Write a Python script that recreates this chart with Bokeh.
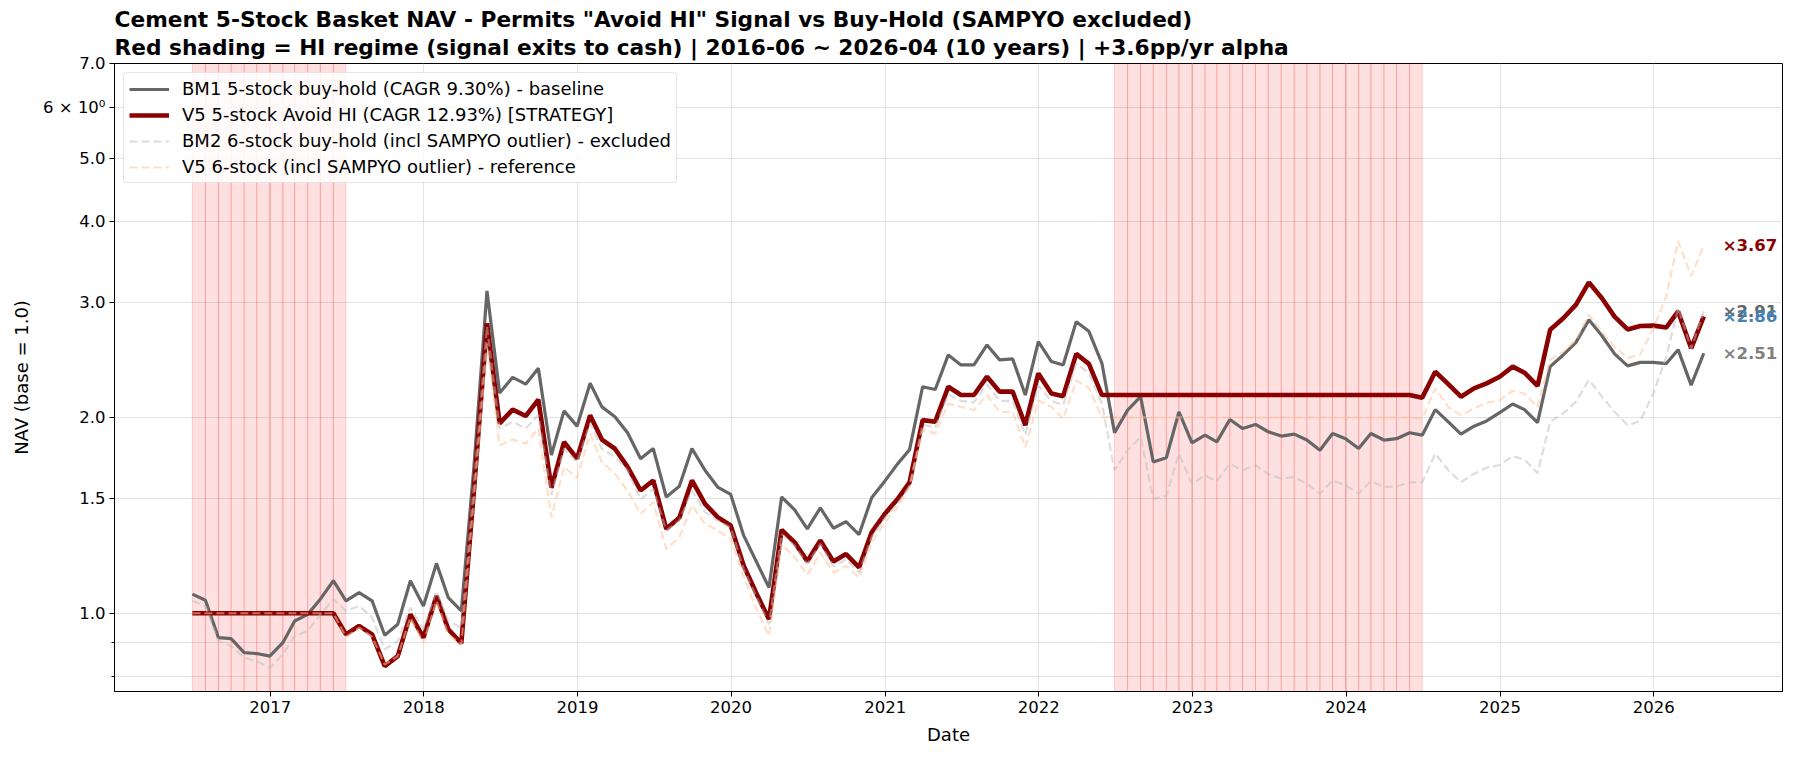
import calendar
from datetime import datetime

from bokeh.plotting import figure
from bokeh.models import (Range1d, FixedTicker, CustomJSTickFormatter, Legend,
                          LegendItem, Title, ColumnDataSource)
from bokeh.core.properties import value
from bokeh.embed import file_html
from bokeh.resources import INLINE

FONT = "DejaVu Sans"

# ---------------- data ----------------
first_year, first_month, n_months = 2016, 6, 119   # 2016-06 ... 2026-04 month ends

bm1_5stock = [
    1.070, 1.047, 0.917, 0.914, 0.870, 0.867, 0.859,
    0.901, 0.973, 0.996, 1.051, 1.122, 1.045, 1.076, 1.045, 0.925, 0.962, 1.122, 1.026,
    1.193, 1.057, 1.008, 1.680, 3.130, 2.180, 2.305, 2.250, 2.380, 1.750, 2.047, 1.939,
    2.257, 2.076, 2.005, 1.894, 1.728, 1.791, 1.509, 1.567, 1.791, 1.659, 1.563, 1.523,
    1.316, 1.204, 1.095, 1.509, 1.442, 1.348, 1.452, 1.351, 1.383, 1.321, 1.505, 1.596,
    1.698, 1.784, 2.229, 2.208, 2.495, 2.408, 2.408, 2.585, 2.452, 2.460, 2.165, 2.616,
    2.437, 2.408, 2.807, 2.713, 2.422, 1.894, 2.052, 2.152, 1.708, 1.734, 2.039, 1.827,
    1.878, 1.834, 1.985, 1.923, 1.951, 1.901, 1.872, 1.885, 1.846, 1.780, 1.889, 1.855,
    1.791, 1.889, 1.846, 1.855, 1.894, 1.878, 2.056, 1.969, 1.885, 1.939, 1.975, 2.034,
    2.097, 2.056, 1.963, 2.394, 2.495, 2.606, 2.825, 2.670, 2.504, 2.400, 2.430, 2.430,
    2.420, 2.542, 2.242, 2.510,
]

v5_5stock = [
    1.000, 1.000, 1.000, 1.000, 1.000, 1.000, 1.000,
    1.000, 1.000, 1.000, 1.000, 1.000, 0.928, 0.956, 0.928, 0.829, 0.859, 0.996, 0.917,
    1.063, 0.945, 0.899, 1.544, 2.790, 1.958, 2.056, 2.010, 2.130, 1.559, 1.833, 1.728,
    2.015, 1.849, 1.790, 1.679, 1.544, 1.600, 1.348, 1.402, 1.600, 1.473, 1.405, 1.364,
    1.183, 1.076, 0.979, 1.343, 1.285, 1.202, 1.294, 1.201, 1.233, 1.176, 1.332, 1.421,
    1.499, 1.590, 1.981, 1.970, 2.229, 2.165, 2.165, 2.310, 2.191, 2.191, 1.946, 2.337,
    2.177, 2.156, 2.504, 2.417, 2.165, 2.165, 2.165, 2.165, 2.165, 2.165, 2.165, 2.165,
    2.165, 2.165, 2.165, 2.165, 2.165, 2.165, 2.165, 2.165, 2.165, 2.165, 2.165, 2.165,
    2.165, 2.165, 2.165, 2.165, 2.165, 2.145, 2.351, 2.250, 2.152, 2.217, 2.256, 2.310,
    2.394, 2.343, 2.236, 2.727, 2.841, 2.979, 3.226, 3.050, 2.857, 2.731, 2.764, 2.768,
    2.750, 2.910, 2.554, 2.860,
]

bm2_6stock = [
    1.045, 1.026, 0.906, 0.890, 0.854, 0.844, 0.824,
    0.864, 0.923, 0.939, 0.996, 1.051, 1.008, 1.026, 0.985, 0.880, 0.906, 1.020, 0.945,
    1.083, 0.973, 0.950, 1.580, 2.760, 1.923, 1.969, 1.923, 2.017, 1.521, 1.790, 1.708,
    1.958, 1.790, 1.738, 1.659, 1.495, 1.554, 1.340, 1.388, 1.544, 1.430, 1.388, 1.355,
    1.169, 1.064, 0.962, 1.324, 1.269, 1.190, 1.278, 1.180, 1.210, 1.155, 1.310, 1.400,
    1.475, 1.570, 1.950, 1.930, 2.170, 2.120, 2.110, 2.250, 2.120, 2.120, 1.880, 2.240,
    2.120, 2.090, 2.420, 2.340, 2.100, 1.659, 1.780, 1.866, 1.499, 1.517, 1.759, 1.581,
    1.629, 1.596, 1.698, 1.659, 1.689, 1.638, 1.610, 1.620, 1.581, 1.526, 1.600, 1.573,
    1.526, 1.596, 1.563, 1.567, 1.589, 1.590, 1.759, 1.659, 1.590, 1.639, 1.674, 1.689,
    1.743, 1.723, 1.642, 1.969, 2.028, 2.114, 2.284, 2.152, 2.040, 1.946, 1.975, 2.177,
    2.480, 2.945, 2.550, 2.910,
]

v5_6stock = [
    1.000, 1.000, 1.000, 1.000, 1.000, 1.000, 1.000,
    1.000, 1.000, 1.000, 1.000, 1.000, 0.920, 0.950, 0.920, 0.834, 0.859, 0.985, 0.900,
    1.045, 0.928, 0.895, 1.500, 2.600, 1.812, 1.849, 1.823, 1.923, 1.405, 1.679, 1.615,
    1.888, 1.708, 1.638, 1.544, 1.422, 1.482, 1.255, 1.308, 1.464, 1.372, 1.340, 1.301,
    1.135, 1.020, 0.923, 1.278, 1.219, 1.145, 1.240, 1.155, 1.183, 1.135, 1.285, 1.380,
    1.456, 1.563, 1.913, 1.890, 2.100, 2.076, 2.052, 2.165, 2.039, 2.039, 1.800, 2.126,
    2.076, 1.990, 2.280, 2.220, 2.000, 2.000, 2.000, 2.000, 2.000, 2.000, 2.000, 2.000,
    2.000, 2.000, 2.000, 2.000, 2.000, 2.000, 2.000, 2.000, 2.000, 2.000, 2.000, 2.000,
    2.000, 2.000, 2.000, 2.000, 2.000, 1.990, 2.217, 2.075, 2.016, 2.063, 2.106, 2.126,
    2.198, 2.177, 2.075, 2.452, 2.524, 2.631, 2.874, 2.710, 2.571, 2.467, 2.500, 2.740,
    3.070, 3.730, 3.300, 3.670,
]

hi_periods = [("2016-06-30", "2017-06-30"), ("2022-06-30", "2024-06-30")]

end_label_values = [3.67, 2.91, 2.86, 2.51]
end_label_colors = ["#8B0000", "#666666", "#4682B4", "#808080"]

x_tick_years = [2017, 2018, 2019, 2020, 2021, 2022, 2023, 2024, 2025, 2026]
y_major_ticks = [1.0, 1.5, 2.0, 3.0, 4.0, 5.0, 6.0, 7.0]
y_minor_ticks = [0.8, 0.9]

legend_labels = [
    "BM1 5-stock buy-hold (CAGR 9.30%) - baseline",
    "V5 5-stock Avoid HI (CAGR 12.93%) [STRATEGY]",
    "BM2 6-stock buy-hold (incl SAMPYO outlier) - excluded",
    "V5 6-stock (incl SAMPYO outlier) - reference",
]
title_line1 = 'Cement 5-Stock Basket NAV - Permits "Avoid HI" Signal vs Buy-Hold (SAMPYO excluded)'
title_line2 = ("Red shading = HI regime (signal exits to cash) | 2016-06 ~ 2026-04 "
               "(10 years) | +3.6pp/yr alpha")

# month-end dates
dates = []
yy, mm = first_year, first_month
for _ in range(n_months):
    dates.append(datetime(yy, mm, calendar.monthrange(yy, mm)[1]))
    mm += 1
    if mm > 12:
        mm, yy = 1, yy + 1

# monthly HI spans
span_left, span_right = [], []
for a, b in hi_periods:
    da, db = datetime.fromisoformat(a), datetime.fromisoformat(b)
    for i in range(len(dates) - 1):
        if da <= dates[i] < db:
            span_left.append(dates[i])
            span_right.append(dates[i + 1])

# ---------------- figure ----------------
p = figure(width=1795, height=760, x_axis_type="datetime", y_axis_type="log",
           x_range=Range1d(datetime(2015, 12, 28), datetime(2026, 11, 3)),
           y_range=Range1d(0.758, 7.0),
           output_backend="svg", toolbar_location=None,
           min_border_left=114, min_border_right=13, min_border_top=63,
           min_border_bottom=69)
p.background_fill_color = "white"
p.border_fill_color = "white"
p.outline_line_color = "black"
p.outline_line_width = 1
p.outline_line_alpha = 1

# titles (p.title is the outer line, the added Title sits next to the frame)
p.title.text = title_line1
p.title.text_font = FONT
p.title.text_font_size = "21.7px"
p.title.text_font_style = "bold"
p.title.text_color = "black"
p.title.align = "left"
p.title.standoff = -5
p.add_layout(Title(text=title_line2, text_font=FONT, text_font_size="21.7px",
                   text_font_style="bold", text_color="black", align="left",
                   standoff=7), "above")

# shading
p.quad(left=span_left, right=span_right, bottom=0.5, top=10.0,
       fill_color="red", fill_alpha=0.12, line_color="red", line_alpha=0.16,
       line_width=1)

src = ColumnDataSource(dict(x=dates, bm1=bm1_5stock, v5=v5_5stock,
                            bm2=bm2_6stock, v56=v5_6stock))
r_bm1 = p.line("x", "bm1", source=src, line_color="#666666", line_width=3.2)
r_v5 = p.line("x", "v5", source=src, line_color="#8B0000", line_width=4.6)
r_bm2 = p.line("x", "bm2", source=src, line_color="#bbbbbb", line_alpha=0.5,
               line_width=2.2, line_dash="8 4")
r_v56 = p.line("x", "v56", source=src, line_color="#ffc49a", line_alpha=0.55,
               line_width=2.2, line_dash="8 4")

# end labels
p.text(x=[dates[-1]] * len(end_label_values), y=end_label_values,
       text=["×%.2f" % v for v in end_label_values],
       text_color=end_label_colors, x_offset=19, text_baseline="middle",
       text_align="left", text_font=value(FONT), text_font_size="16.5px",
       text_font_style="bold")

# legend
legend = Legend(items=[LegendItem(label=legend_labels[0], renderers=[r_bm1]),
                       LegendItem(label=legend_labels[1], renderers=[r_v5]),
                       LegendItem(label=legend_labels[2], renderers=[r_bm2]),
                       LegendItem(label=legend_labels[3], renderers=[r_v56])],
                location="top_left")
legend.margin = 9
legend.padding = 5
legend.spacing = 5
legend.glyph_width = 40
legend.glyph_height = 20
legend.label_height = 20
legend.label_standoff = 13
legend.label_text_font = FONT
legend.label_text_font_size = "18px"
legend.label_text_color = "black"
legend.border_line_color = "#cccccc"
legend.border_line_width = 1.3
legend.border_radius = 4
legend.background_fill_color = "white"
legend.background_fill_alpha = 0.85
p.add_layout(legend)

# axes
epoch = datetime(1970, 1, 1)
x_ticks = [(datetime(y, 1, 1) - epoch).total_seconds() * 1000.0 for y in x_tick_years]
xt = FixedTicker(ticks=x_ticks)
p.xaxis.ticker = xt
p.xgrid.ticker = xt
p.xaxis.formatter = CustomJSTickFormatter(
    code="return String(new Date(tick).getUTCFullYear());")

yt = FixedTicker(ticks=y_major_ticks, minor_ticks=y_minor_ticks)
p.yaxis.ticker = yt
p.ygrid.ticker = yt
p.yaxis.formatter = CustomJSTickFormatter(code="""
    if (Math.abs(tick - 6) < 1e-9) { return "6 \u00d7 10\u2070"; }
    return tick.toFixed(1);
""")

for ax in (p.xaxis[0], p.yaxis[0]):
    ax.axis_line_color = "black"
    ax.major_tick_line_color = "black"
    ax.minor_tick_line_color = "black"
    ax.major_tick_out = 5
    ax.major_tick_in = 0
    ax.minor_tick_out = 3
    ax.minor_tick_in = 0
    ax.major_label_text_font = FONT
    ax.major_label_text_font_size = "16.5px"
    ax.major_label_text_color = "black"
    ax.major_label_standoff = 4
    ax.axis_label_text_font = FONT
    ax.axis_label_text_font_size = "18px"
    ax.axis_label_text_font_style = "normal"
    ax.axis_label_text_color = "black"
    ax.axis_label_standoff = 8

p.xaxis.axis_label = "Date"
p.yaxis.axis_label = "NAV (base = 1.0)"

for g in (p.xgrid[0], p.ygrid[0]):
    g.grid_line_color = "#e3e3e3"
    g.grid_line_width = 1
p.ygrid.minor_grid_line_color = "#e3e3e3"

open("out.html", "w").write(file_html(p, INLINE))
